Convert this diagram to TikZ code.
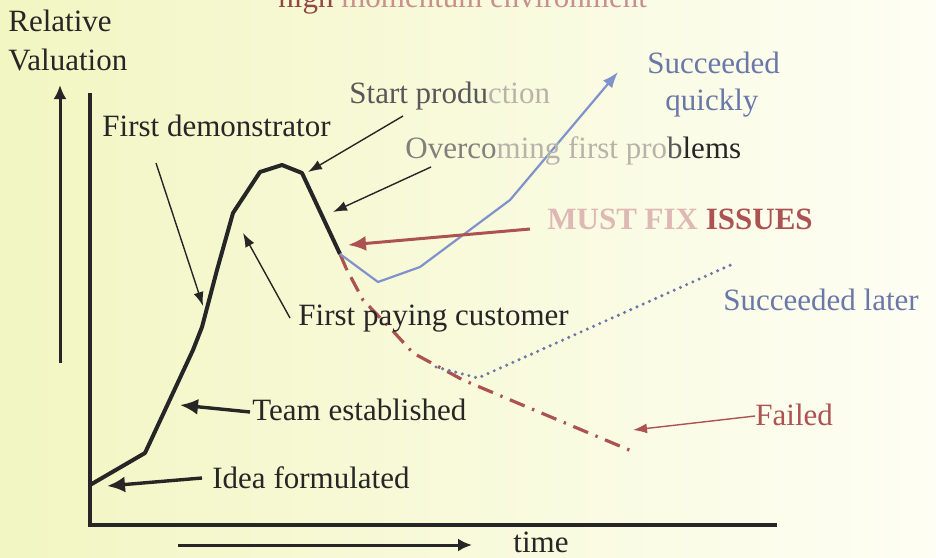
\documentclass[tikz,border=0pt]{standalone}
\usepackage{fontspec}
\setmainfont{Liberation Serif}
\usetikzlibrary{arrows.meta}

\definecolor{nero}{RGB}{38,38,38}
\definecolor{rosso}{RGB}{172,82,82}
\definecolor{rosa}{RGB}{222,184,180}
\definecolor{blu}{RGB}{106,120,168}
\definecolor{azzurro}{RGB}{128,146,204}
\definecolor{grigio}{RGB}{88,88,88}
\definecolor{grigiochiaro}{RGB}{128,128,124}
\definecolor{sbiadito}{RGB}{182,180,170}
\definecolor{fondoA}{RGB}{242,246,194}
\definecolor{fondoB}{RGB}{254,254,244}

\begin{document}
\begin{tikzpicture}[x=0.5pt, y=-0.5pt,
    lab/.style = {anchor=base west, inner sep=0pt, text=nero, font=\fontsize{15.5}{18}\selectfont},
    spessa/.style = {-{Latex[length=9pt,width=8pt]}, line width=1.7pt, draw=nero},
    sottile/.style = {-{Latex[length=7pt,width=5pt]}, line width=0.7pt, draw=nero}]

    \fill[left color=fondoA, right color=fondoB] (0,0) rectangle (936,557);
    \useasboundingbox (0,0) rectangle (936,557);
    \clip (0,0) rectangle (936,557);

    % assi
    \coordinate (o) at (90,525);
    \coordinate (ytop) at (90,93);
    \coordinate (xend) at (777,525);
    \draw[nero, line width=2pt] (ytop) -- (o) -- (xend);
    \coordinate (vb) at (60,363);
    \coordinate (vt) at (60,85);
    \draw[spessa, line width=1.5pt, -{Latex[length=7pt,width=6.5pt]}] (vb) -- (vt);
    \coordinate (tb) at (178,545);
    \coordinate (tt) at (472,545);
    \draw[spessa, line width=1.5pt, -{Latex[length=7pt,width=6.5pt]}] (tb) -- (tt);

    % curva principale
    \coordinate (c0) at (90,485);
    \coordinate (c1) at (145,453);
    \coordinate (c2) at (193,350);
    \coordinate (c3) at (202,327);
    \coordinate (c4) at (217,270);
    \coordinate (c5) at (233,213);
    \coordinate (c6) at (260,172);
    \coordinate (c7) at (282,165);
    \coordinate (c8) at (302,173);
    \coordinate (c9) at (340,254);
    \draw[nero, line width=2pt, line join=round]
        (c0) -- (c1) -- (c2) -- (c3) -- (c4) -- (c5) -- (c6) -- (c7) -- (c8) -- (c9);

    % tre esiti
    \coordinate (r1) at (346,268);
    \coordinate (r2) at (363,300);
    \coordinate (r3) at (392,330);
    \coordinate (r4) at (413,353);
    \coordinate (r5) at (463,380);
    \coordinate (r6) at (634,452);
    \draw[rosso, line width=1.6pt] (c9) -- (r1);
    \draw[rosso, line width=1.6pt, dash pattern=on 1.2pt off 4pt on 8pt off 4pt]
        (r1) -- (r2) -- (r3) -- (r4) -- (r5) -- (r6);

    \coordinate (b1) at (378,282);
    \coordinate (b2) at (420,267);
    \coordinate (b3) at (510,200);
    \coordinate (b4) at (618,72);
    \draw[azzurro, line width=1.1pt, line join=round, -{Latex[length=8pt,width=6pt]}]
        (c9) -- (b1) -- (b2) -- (b3) -- (b4);

    \coordinate (d0) at (436,367);
    \coordinate (d1) at (478,378);
    \coordinate (d2) at (735,263);
    \draw[blu, line width=1.7pt, line cap=round, dash pattern=on 0pt off 3.4pt]
        (d0) -- (d1) -- (d2);

    % etichette
    \node[lab] (rel) at (8,32) {Relative};
    \node[lab] (val) at (8,70) {Valuation};
    \node[lab, text=rosso!65] (titolo) at (278,8) {\textcolor{rosso!85!black}{high} momentum environment};
    \node[lab] (start) at (349,103) {\textcolor{grigio}{Start produ}\textcolor{sbiadito}{ction}};
    \node[lab] (demo) at (102,136) {First demonstrator};
    \node[lab] (over) at (405,158) {\textcolor{grigiochiaro}{Overco}\textcolor{sbiadito}{ming first pro}\textcolor{grigio}{b}lems};
    \node[lab, font=\fontsize{15.5}{18}\selectfont\bfseries] (must) at (547,229) {\textcolor{rosa}{MUST FIX }\textcolor{rosso}{ISSUES}};
    \node[lab, text=blu] (quick) at (647,73) {Succeeded};
    \node[lab, text=blu] (quick2) at (665,110) {quickly};
    \node[lab] (pay) at (298,325) {First paying customer};
    \node[lab, text=blu] (later) at (723,310) {Succeeded later};
    \node[lab] (team) at (252,420) {Team established};
    \node[lab, text=rosso] (fail) at (755,425) {Failed};
    \node[lab] (idea) at (212,488) {Idea formulated};
    \node[lab] (time) at (513,552) {time};

    % frecce
    \coordinate (hdemo) at (203,306);
    \coordinate (hstart) at (308,172);
    \coordinate (hover) at (333,212);
    \coordinate (hmust) at (348,245);
    \coordinate (hpay) at (243,233);
    \coordinate (hteam) at (180,405);
    \coordinate (hidea) at (107,486);
    \coordinate (hfail) at (633,430);

    \draw[sottile] ([xshift=27pt,yshift=-13.5pt]demo.base west) -- (hdemo);
    \draw[sottile] ([xshift=27pt,yshift=-6.5pt]start.base west) -- (hstart);
    \draw[sottile] ([xshift=13pt,yshift=-4.5pt]over.base west) -- (hover);
    \draw[-{Latex[length=9pt,width=7.5pt]}, line width=1.5pt, rosso] ([xshift=-8.5pt,yshift=0pt]must.base west) -- (hmust);
    \draw[sottile] ([xshift=-4pt,yshift=3.5pt]pay.base west) -- (hpay);
    \draw[spessa] ([xshift=-1pt,yshift=4pt]team.base west) -- (hteam);
    \draw[spessa] ([xshift=-5pt,yshift=5pt]idea.base west) -- (hidea);
    \draw[sottile, draw=rosso] ([yshift=4.5pt]fail.base west) -- (hfail);
\end{tikzpicture}
\end{document}
